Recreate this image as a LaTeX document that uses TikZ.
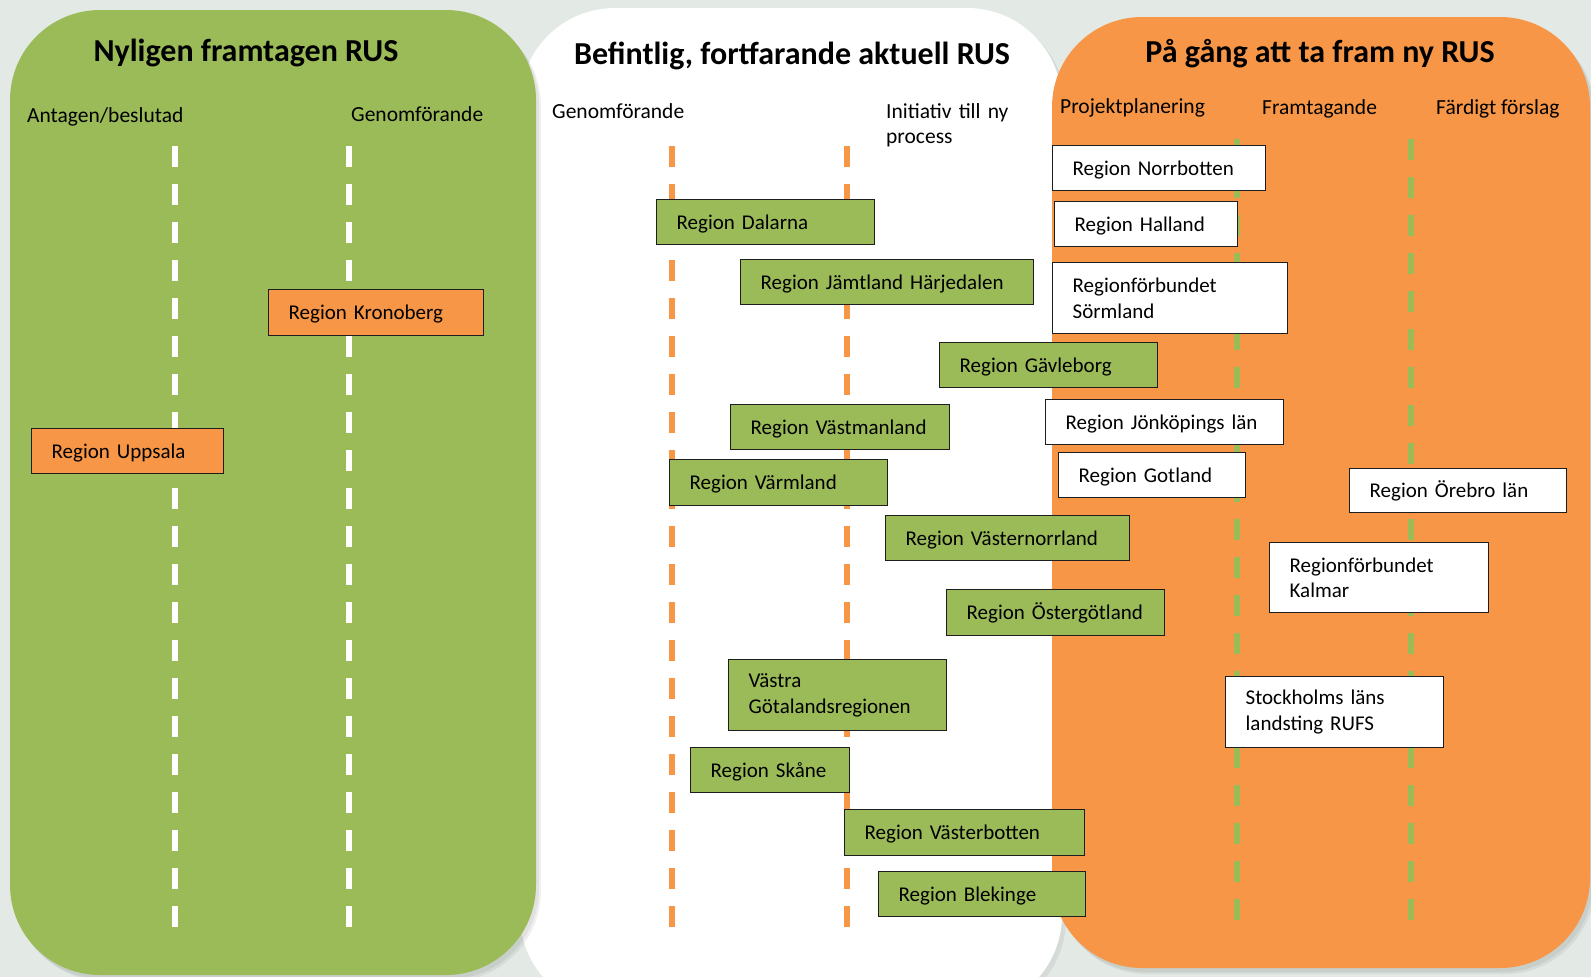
\documentclass[tikz,border=0pt]{standalone}
\usepackage{fontspec}
\setmainfont{Carlito}
\definecolor{bggray}{HTML}{E3EAE6}
\definecolor{pgreen}{HTML}{9BBB59}
\definecolor{porange}{HTML}{F79646}
\definecolor{bdark}{HTML}{1E1E1E}
\begin{document}
\begin{tikzpicture}[x=1pt,y=-1pt,
  paneltitle/.style={font=\fontsize{32}{38}\selectfont\bfseries, inner sep=0pt, anchor=base},
  collabel/.style={font=\fontsize{21.5}{25.5}\selectfont, inner sep=0pt, anchor=base west, align=left},
  regbox/.style={draw=bdark, line width=1.3pt, anchor=north west, inner xsep=20pt, inner ysep=0pt, align=left, font=\fontsize{21}{25.5}\selectfont},
  sl/.style={text height=16.5pt, text depth=2.2pt},
  gbox/.style={regbox, fill=pgreen},
  obox/.style={regbox, fill=porange},
  wbox/.style={regbox, fill=white},
  dashline/.style={line width=5.5pt, dash pattern=on 21pt off 17pt},
  pshadow/.style={fill=black, opacity=0.06, rounded corners=#1},
]
\useasboundingbox (0,0) rectangle (1591,977);
\fill[bggray] (0,0) rectangle (1591,977);

% white panel
\fill[pshadow=95pt] (523,12) rectangle (1066,1014);
\fill[white, rounded corners=95pt] (520,8) rectangle (1062,1010);
% green panel
\fill[pshadow=90pt] (13,14) rectangle (539,979);
\fill[pshadow=90pt] (15,16) rectangle (541,981);
\fill[pgreen, rounded corners=90pt] (10,10) rectangle (536,975);
% orange panel
\fill[pshadow=90pt] (1055,21) rectangle (1593,972);
\fill[pshadow=90pt] (1057,23) rectangle (1595,974);
\fill[porange, rounded corners=90pt] (1052,17) rectangle (1590,968);

% titles
\node[paneltitle] (t1) at (246,61) {Nyligen framtagen RUS};
\node[paneltitle] (t2) at (792,64) {Befintlig, fortfarande aktuell RUS};
\node[paneltitle] (t3) at (1320,62) {På gång att ta fram ny RUS};

% column labels
\node[collabel] (l1) at (27,122) {Antagen/beslutad};
\node[collabel] (l2) at (351,121) {Genomförande};
\node[collabel] (l3) at (552,118) {Genomförande};
\node[collabel, text width=160pt] (l4) at (886,118) {Initiativ till ny\\process};
\node[collabel] (l5) at (1060,113) {Projektplanering};
\node[collabel] (l6) at (1262,114) {Framtagande};
\node[collabel] (l7) at (1436,114) {Färdigt förslag};

% dashed stage lines
\coordinate (ga) at (175,146); \coordinate (gb) at (175,927);
\coordinate (gc) at (349,146); \coordinate (gd) at (349,927);
\coordinate (wa) at (672,146); \coordinate (wb) at (672,927);
\coordinate (wc) at (847,146); \coordinate (wd) at (847,927);
\coordinate (oa) at (1237,139); \coordinate (ob) at (1237,920);
\coordinate (oc) at (1411,139); \coordinate (od) at (1411,920);
\draw[dashline, white] (ga) -- (gb);
\draw[dashline, white] (gc) -- (gd);
\draw[dashline, porange] (wa) -- (wb);
\draw[dashline, porange] (wc) -- (wd);
\draw[dashline, pgreen] (oa) -- (ob);
\draw[dashline, pgreen] (oc) -- (od);

% green panel boxes
\node[obox, sl, text width=175pt, minimum height=46pt] (kronoberg) at (268,289) {Region Kronoberg};
\node[obox, sl, text width=152pt, minimum height=45pt] (uppsala) at (31,428) {Region Uppsala};

% white panel boxes
\node[gbox, sl, text width=178pt, minimum height=45pt] (dalarna) at (656,199) {Region Dalarna};
\node[gbox, sl, text width=253pt, minimum height=45pt] (jamtland) at (740,259) {Region Jämtland Härjedalen};
\node[gbox, sl, text width=178pt, minimum height=45pt] (gavleborg) at (939,342) {Region Gävleborg};
\node[gbox, sl, text width=179pt, minimum height=45pt] (vastmanland) at (730,404) {Region Västmanland};
\node[gbox, sl, text width=178pt, minimum height=46pt] (varmland) at (669,459) {Region Värmland};
\node[gbox, sl, text width=204pt, minimum height=45pt] (vasternorrland) at (885,515) {Region Västernorrland};
\node[gbox, sl, text width=178pt, minimum height=46pt] (ostergotland) at (946,589) {Region Östergötland};
\node[gbox, text width=178pt, minimum height=71pt] (vastra) at (728,659) {Västra\\Götalandsregionen};
\node[gbox, sl, text width=119pt, minimum height=45pt] (skane) at (690,747) {Region Skåne};
\node[gbox, sl, text width=200pt, minimum height=46pt] (vasterbotten) at (844,809) {Region Västerbotten};
\node[gbox, sl, text width=167pt, minimum height=45pt] (blekinge) at (878,871) {Region Blekinge};

% orange panel boxes
\node[wbox, sl, text width=173pt, minimum height=45pt] (norrbotten) at (1052,145) {Region Norrbotten};
\node[wbox, sl, text width=143pt, minimum height=45pt] (halland) at (1054,201) {Region Halland};
\node[wbox, text width=195pt, minimum height=71pt] (sormland) at (1052,262) {Regionförbundet\\Sörmland};
\node[wbox, sl, text width=198pt, minimum height=45pt] (jonkoping) at (1045,399) {Region Jönköpings län};
\node[wbox, sl, text width=147pt, minimum height=45pt] (gotland) at (1058,452) {Region Gotland};
\node[wbox, sl, text width=177pt, minimum height=44pt] (orebro) at (1349,468) {Region Örebro län};
\node[wbox, text width=179pt, minimum height=70pt] (kalmar) at (1269,542) {Regionförbundet\\Kalmar};
\node[wbox, text width=178pt, minimum height=71pt] (stockholm) at (1225,676) {Stockholms läns\\landsting RUFS};
\end{tikzpicture}
\end{document}
